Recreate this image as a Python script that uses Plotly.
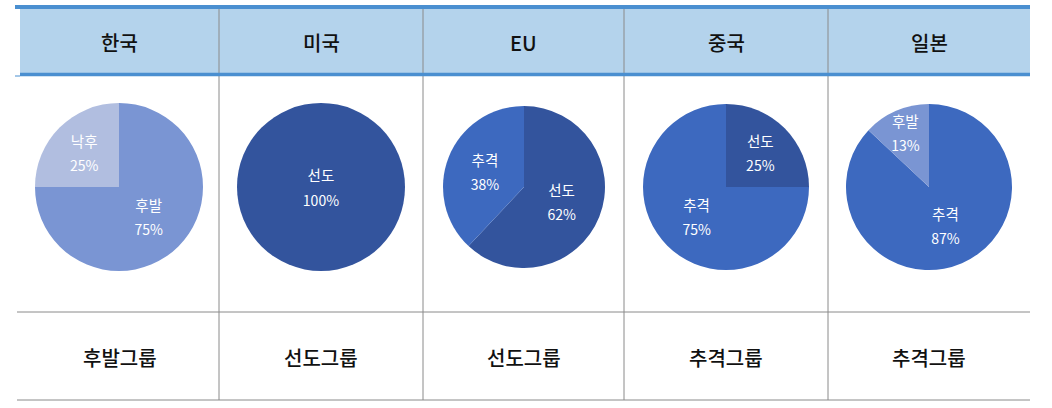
import plotly.graph_objects as go

# ---- data ----
countries = ["한국", "미국", "EU", "중국", "일본"]
groups = ["후발그룹", "선도그룹", "선도그룹", "추격그룹", "추격그룹"]
slice_labels = [
    ["후발", "낙후"],
    ["선도"],
    ["선도", "추격"],
    ["선도", "추격"],
    ["추격", "후발"],
]
slice_values = [
    [75, 25],
    [100],
    [62, 38],
    [25, 75],
    [87, 13],
]

# ---- style ----
W, H = 1052, 408
cat_colors = {"선도": "#33549d", "추격": "#3d69bf", "후발": "#7a95d3", "낙후": "#b1bee0"}
col_edges = [20, 219, 423, 624, 828, 1030]
pie_cx = [119, 321, 524, 726, 929]
pie_cy = 187
pie_r = [84, 84, 81, 83, 83]
FONT = "Noto Sans CJK KR, Noto Sans, sans-serif"

fig = go.Figure()

for i, (labs, vals) in enumerate(zip(slice_labels, slice_values)):
    cx, r = pie_cx[i], pie_r[i]
    fig.add_trace(go.Pie(
        labels=labs,
        values=vals,
        sort=False,
        direction="clockwise",
        rotation=0,
        marker=dict(colors=[cat_colors[l] for l in labs], line=dict(width=0)),
        textposition="inside",
        insidetextorientation="horizontal",
        texttemplate="<span style='font-size:14.5px'>%{label}</span><br><span style='font-size:14px'>%{percent:.0%}</span>",
        textfont=dict(family=FONT, size=18.5, color="white"),
        hoverinfo="label+percent",
        showlegend=False,
        domain=dict(x=[(cx - r) / W, (cx + r) / W],
                    y=[1 - (pie_cy + r) / H, 1 - (pie_cy - r) / H]),
    ))

shapes = []
# header background
shapes.append(dict(type="rect", x0=col_edges[0], x1=col_edges[-1], y0=9, y1=73,
                   fillcolor="#b4d3ec", line=dict(width=0), layer="below"))
# vertical separators
for x in col_edges[1:-1]:
    shapes.append(dict(type="line", x0=x, x1=x, y0=9, y1=400,
                       line=dict(color="#8a8a8a", width=1)))
# gray horizontal lines
for y in [312, 400]:
    shapes.append(dict(type="line", x0=17, x1=col_edges[-1], y0=y, y1=y,
                       line=dict(color="#8a8a8a", width=1)))
# blue borders
shapes.append(dict(type="line", x0=15, x1=col_edges[-1], y0=7, y1=7,
                   line=dict(color="#4a8fd0", width=4)))
shapes.append(dict(type="line", x0=20, x1=col_edges[-1], y0=74.5, y1=74.5,
                   line=dict(color="#4a8fd0", width=3.5)))
shapes.append(dict(type="line", x0=15, x1=20, y0=76, y1=76,
                   line=dict(color="#4a8fd0", width=1)))

annotations = []
for i in range(5):
    xc = (col_edges[i] + col_edges[i + 1]) / 2
    annotations.append(dict(x=xc, y=42, xref="x", yref="y", text=countries[i],
                            showarrow=False,
                            font=dict(family=FONT, size=20, color="#111111", weight=500)))
    annotations.append(dict(x=xc, y=357, xref="x", yref="y", text=groups[i],
                            showarrow=False,
                            font=dict(family=FONT, size=20, color="#111111", weight=500)))

fig.update_layout(
    width=W, height=H,
    margin=dict(l=0, r=0, t=0, b=0),
    paper_bgcolor="white",
    plot_bgcolor="white",
    uniformtext=dict(mode="show", minsize=18.5),
    xaxis=dict(range=[0, W], visible=False, fixedrange=True),
    yaxis=dict(range=[H, 0], visible=False, fixedrange=True),
    shapes=shapes,
    annotations=annotations,
)

fig.write_html("out.html")
